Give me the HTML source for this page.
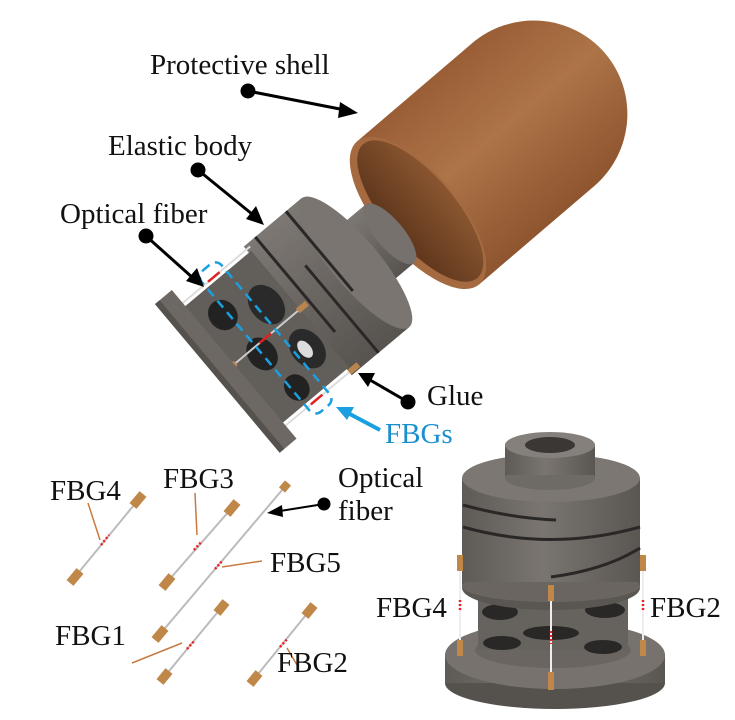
<!DOCTYPE html>
<html><head><meta charset="utf-8"><style>
html,body{margin:0;padding:0;background:#fff}
svg{display:block}
text{font-family:"Liberation Serif",serif;font-size:29px;fill:#111}
</style></head><body>
<svg width="735" height="720" viewBox="0 0 735 720" xmlns="http://www.w3.org/2000/svg">
<defs>
<linearGradient id="sh" x1="0" y1="0" x2="0" y2="1">
<stop offset="0" stop-color="#9a5e36"/><stop offset="0.45" stop-color="#ad7448"/><stop offset="1" stop-color="#8e552f"/>
</linearGradient>
<linearGradient id="shin" x1="0" y1="0" x2="1" y2="0">
<stop offset="0" stop-color="#5e361c"/><stop offset="1" stop-color="#8a5630"/>
</linearGradient>
<linearGradient id="gr" x1="0" y1="0" x2="0" y2="1">
<stop offset="0" stop-color="#7d7873"/><stop offset="0.5" stop-color="#6a6560"/><stop offset="1" stop-color="#57534f"/>
</linearGradient>
<linearGradient id="gv" x1="0" y1="0" x2="1" y2="0">
<stop offset="0" stop-color="#5e5a56"/><stop offset="0.45" stop-color="#7a7570"/><stop offset="1" stop-color="#5a5652"/>
</linearGradient>
</defs>

<g transform="translate(418,213) rotate(-40.5)">
<path d="M0,-94 L151,-94 A95,94 0 0 1 151,94 L0,94 Z" fill="url(#sh)"/>
<ellipse cx="0" cy="0" rx="40" ry="94" fill="#a56a40"/>
<ellipse cx="3" cy="0" rx="35" ry="88" fill="url(#shin)"/>
</g>

<g transform="translate(225,372) rotate(-40)">
<rect x="165" y="-38" width="50" height="76" fill="url(#gr)"/>
<ellipse cx="215" cy="0" rx="14" ry="38" fill="#76716c"/>
<rect x="95" y="-84" width="75" height="168" fill="url(#gr)"/>
<ellipse cx="170" cy="0" rx="24" ry="84" fill="#7a7570"/>
<line x1="110" y1="-84" x2="110" y2="40" stroke="#2a2826" stroke-width="3"/>
<line x1="130" y1="-30" x2="130" y2="84" stroke="#2a2826" stroke-width="3"/>
<line x1="150" y1="-84" x2="150" y2="20" stroke="#2a2826" stroke-width="3"/>
<rect x="10" y="-76" width="88" height="152" fill="#625e5a"/>
<ellipse cx="35" cy="-45" rx="14" ry="16" fill="#222"/>
<ellipse cx="40" cy="10" rx="14" ry="18" fill="#222"/>
<ellipse cx="45" cy="58" rx="12" ry="14" fill="#222"/>
<ellipse cx="75" cy="-25" rx="16" ry="22" fill="#2a2a2a"/>
<ellipse cx="78" cy="35" rx="16" ry="22" fill="#2a2a2a"/>
<ellipse cx="76" cy="34" rx="6" ry="10" fill="#ddd"/>
<line x1="8" y1="-80" x2="100" y2="-80" stroke="#ddd" stroke-width="2"/>
<line x1="8" y1="0" x2="100" y2="0" stroke="#ccc" stroke-width="2"/>
<line x1="8" y1="80" x2="100" y2="80" stroke="#ddd" stroke-width="2"/>
<rect x="95" y="-3" width="12" height="6" fill="#b9854e"/>
<rect x="2" y="-3" width="12" height="6" fill="#b9854e"/>
<rect x="95" y="77" width="12" height="6" fill="#b9854e"/>
<line x1="45" y1="-80" x2="60" y2="-80" stroke="#d22" stroke-width="2.5"/>
<line x1="45" y1="0" x2="60" y2="0" stroke="#d22" stroke-width="2.5"/>
<line x1="45" y1="80" x2="60" y2="80" stroke="#d22" stroke-width="2.5"/>
<rect x="40" y="-92" width="26" height="184" rx="8" fill="none" stroke="#1aa0e0" stroke-width="2.5" stroke-dasharray="9,6"/>
<rect x="-10" y="-97" width="22" height="194" fill="#6d6864"/>
<rect x="-10" y="-97" width="6" height="194" fill="#55514d"/>
</g>

<ellipse cx="555" cy="683" rx="110" ry="26" fill="#55514d"/>
<rect x="445" y="655" width="220" height="28" fill="url(#gv)"/>
<ellipse cx="555" cy="655" rx="110" ry="34" fill="#77726d"/>
<ellipse cx="553" cy="650" rx="78" ry="18" fill="#6a6561"/>
<rect x="478" y="585" width="150" height="65" fill="#66625e"/>
<ellipse cx="551" cy="603" rx="28" ry="7" fill="#2a2826"/>
<ellipse cx="500" cy="612" rx="18" ry="8" fill="#2a2826"/>
<ellipse cx="605" cy="610" rx="20" ry="8" fill="#2a2826"/>
<ellipse cx="551" cy="633" rx="28" ry="7" fill="#2a2826"/>
<ellipse cx="502" cy="643" rx="19" ry="7" fill="#2a2826"/>
<ellipse cx="603" cy="647" rx="19" ry="7" fill="#2a2826"/>
<ellipse cx="551" cy="588" rx="89" ry="22" fill="#5a5652"/>
<rect x="462" y="478" width="178" height="108" fill="url(#gv)"/>
<ellipse cx="551" cy="586" rx="89" ry="16" fill="#6a6561"/>
<rect x="462" y="478" width="178" height="104" fill="url(#gv)"/>
<path d="M463,505 Q510,518 556,520" fill="none" stroke="#2a2826" stroke-width="3"/>
<path d="M463,527 Q552,552 640,527" fill="none" stroke="#2a2826" stroke-width="3"/>
<path d="M551,577 Q605,570 640,548" fill="none" stroke="#2a2826" stroke-width="3"/>
<ellipse cx="551" cy="478" rx="89" ry="24" fill="#7c7772"/>
<rect x="505" y="445" width="90" height="33" fill="url(#gv)"/>
<ellipse cx="550" cy="478" rx="45" ry="12" fill="#6e6a65"/>
<rect x="505" y="445" width="90" height="30" fill="url(#gv)"/>
<ellipse cx="550" cy="445" rx="45" ry="13" fill="#85807b"/>
<ellipse cx="550" cy="445" rx="25" ry="8" fill="#3a3735"/>
<line x1="460" y1="560" x2="460" y2="650" stroke="#eee" stroke-width="2"/>
<line x1="551" y1="592" x2="551" y2="682" stroke="#eee" stroke-width="2"/>
<line x1="643" y1="560" x2="643" y2="650" stroke="#eee" stroke-width="2"/>
<rect x="457" y="555" width="6" height="16" fill="#c08848"/>
<rect x="457" y="640" width="6" height="16" fill="#c08848"/>
<rect x="548" y="585" width="6" height="16" fill="#c08848"/>
<rect x="548" y="672" width="6" height="18" fill="#c08848"/>
<rect x="640" y="555" width="6" height="16" fill="#c08848"/>
<rect x="640" y="640" width="6" height="16" fill="#c08848"/>
<line x1="460" y1="600" x2="460" y2="612" stroke="#e22" stroke-width="2.5" stroke-dasharray="2,2"/>
<line x1="551" y1="631" x2="551" y2="644" stroke="#e22" stroke-width="2.5" stroke-dasharray="2,2"/>
<line x1="643" y1="600" x2="643" y2="612" stroke="#e22" stroke-width="2.5" stroke-dasharray="2,2"/>

<g stroke-linecap="butt">
<line x1="70" y1="583" x2="143" y2="494" stroke="#bbb" stroke-width="2"/>
<line x1="70" y1="583" x2="80" y2="571" stroke="#c08848" stroke-width="9"/>
<line x1="133" y1="506" x2="143" y2="494" stroke="#c08848" stroke-width="9"/>
<line x1="101" y1="545" x2="109" y2="535" stroke="#e22" stroke-width="2.5" stroke-dasharray="2,2"/>
<line x1="162" y1="588" x2="237" y2="502" stroke="#bbb" stroke-width="2"/>
<line x1="162" y1="588" x2="172" y2="576" stroke="#c08848" stroke-width="9"/>
<line x1="227" y1="514" x2="237" y2="502" stroke="#c08848" stroke-width="9"/>
<line x1="194" y1="550" x2="202" y2="541" stroke="#e22" stroke-width="2.5" stroke-dasharray="2,2"/>
<line x1="155" y1="640" x2="288" y2="483" stroke="#bbb" stroke-width="2"/>
<line x1="155" y1="640" x2="165" y2="628" stroke="#c08848" stroke-width="9"/>
<line x1="282" y1="490" x2="288" y2="483" stroke="#c08848" stroke-width="8"/>
<line x1="215" y1="569" x2="223" y2="560" stroke="#e22" stroke-width="2.5" stroke-dasharray="2,2"/>
<line x1="160" y1="682" x2="226" y2="602" stroke="#bbb" stroke-width="2"/>
<line x1="160" y1="682" x2="169" y2="671" stroke="#c08848" stroke-width="9"/>
<line x1="217" y1="613" x2="226" y2="602" stroke="#c08848" stroke-width="9"/>
<line x1="187" y1="649" x2="195" y2="640" stroke="#e22" stroke-width="2.5" stroke-dasharray="2,2"/>
<line x1="250" y1="684" x2="314" y2="605" stroke="#bbb" stroke-width="2"/>
<line x1="250" y1="684" x2="259" y2="673" stroke="#c08848" stroke-width="9"/>
<line x1="305" y1="616" x2="314" y2="605" stroke="#c08848" stroke-width="9"/>
<line x1="280" y1="647" x2="288" y2="638" stroke="#e22" stroke-width="2.5" stroke-dasharray="2,2"/>
</g>

<g stroke="#c87a40" stroke-width="1.5">
<line x1="88" y1="503" x2="100" y2="540"/>
<line x1="195" y1="493" x2="197" y2="535"/>
<line x1="262" y1="561" x2="222" y2="567"/>
<line x1="132" y1="663" x2="182" y2="643"/>
<line x1="297" y1="665" x2="287" y2="648"/>
</g>

<g stroke="#000" stroke-width="3" fill="#000">
<circle cx="248" cy="91" r="6"/><line x1="248" y1="91" x2="345" y2="110"/>
<polygon points="358,113 340,102 338,118" stroke="none"/>
<circle cx="198" cy="170" r="6"/><line x1="198" y1="170" x2="252" y2="214"/>
<polygon points="264,225 246,219 256,206" stroke="none"/>
<circle cx="146" cy="236" r="6"/><line x1="146" y1="236" x2="193" y2="278"/>
<polygon points="204,287 186,281 197,268" stroke="none"/>
<circle cx="408" cy="402" r="6"/><line x1="408" y1="402" x2="370" y2="380"/>
<polygon points="358,373 375,373 368,387" stroke="none"/>
<circle cx="324" cy="504" r="5"/><line x1="324" y1="504" x2="280" y2="511" stroke-width="2"/>
<polygon points="267,513 282,505 283,517" stroke="none"/>
</g>
<line x1="380" y1="430" x2="346" y2="412" stroke="#1aa0e0" stroke-width="4"/>
<polygon points="336,407 354,407 347,420" fill="#1aa0e0"/>

<text x="150" y="74">Protective shell</text>
<text x="108" y="155">Elastic body</text>
<text x="60" y="223">Optical fiber</text>
<text x="427" y="405">Glue</text>
<text x="385" y="443" style="fill:#1a8fd0">FBGs</text>
<text x="50" y="500">FBG4</text>
<text x="163" y="488">FBG3</text>
<text x="338" y="487">Optical</text>
<text x="338" y="520">fiber</text>
<text x="270" y="572">FBG5</text>
<text x="55" y="645">FBG1</text>
<text x="277" y="672">FBG2</text>
<text x="376" y="617">FBG4</text>
<text x="650" y="617">FBG2</text>
</svg>
</body></html>
